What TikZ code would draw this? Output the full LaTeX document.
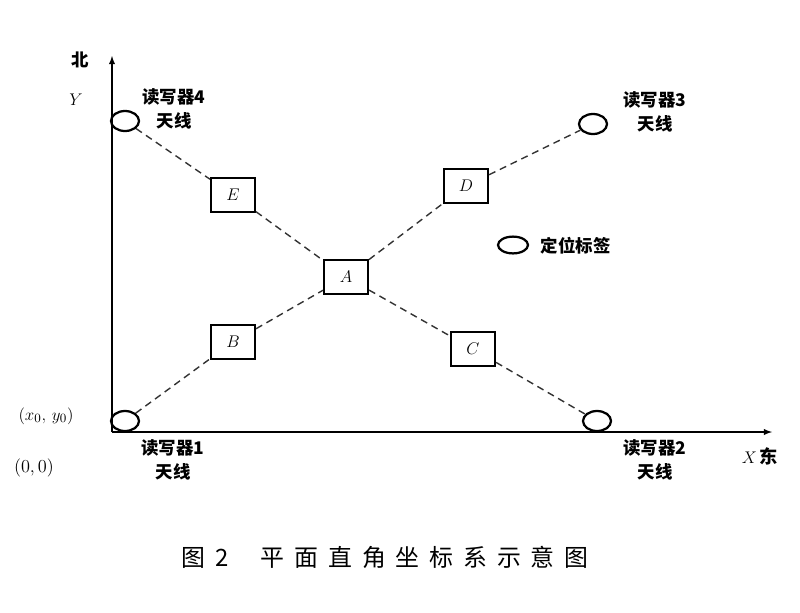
\documentclass[tikz,border=0pt]{standalone}
\usepackage{fontspec}
\newfontfamily\cjk{Noto Sans CJK SC}
\usetikzlibrary{shapes.geometric}

\begin{document}
\begin{tikzpicture}[x=0.025cm, y=-0.025cm,
  antenna/.style={draw, ellipse, line width=1.6pt, minimum width=0.7cm, minimum height=0.5cm, inner sep=0pt},
  tagbox/.style={draw, rectangle, line width=1.5pt, minimum width=1.1cm, minimum height=0.85cm, inner sep=0pt, font=\fontsize{13}{15}\selectfont},
  link/.style={dash pattern=on 5pt off 3.5pt, black!80, line width=1pt},
  axis/.style={line width=1pt, -latex},
  lbl/.style={font=\cjk\bfseries\fontsize{12.4}{17}\selectfont, align=center},
  coordtext/.style={font=\fontsize{13}{15}\selectfont}]
  \useasboundingbox (0,0) rectangle (800,612);
  \coordinate (o) at (112,432);
  \coordinate (xend) at (772,432);
  \coordinate (yend) at (112,56);
  \draw[axis] (o) -- (xend);
  \draw[axis] (o) -- (yend);
  \node[antenna] (ant1) at (125,421) {};
  \node[antenna] (ant2) at (597,421) {};
  \node[antenna] (ant3) at (593,124) {};
  \node[antenna] (ant4) at (125,121) {};
  \node[antenna, minimum width=0.75cm, minimum height=0.42cm] (tag) at (513,245) {};
  \node[tagbox] (A) at (346,277) {$A$};
  \node[tagbox] (B) at (233,342) {$B$};
  \node[tagbox] (C) at (473,349) {$C$};
  \node[tagbox] (D) at (466,186) {$D$};
  \node[tagbox] (E) at (233,195) {$E$};
  \draw[link] (ant1) -- (B) -- (A) -- (D) -- (ant3);
  \draw[link] (ant4) -- (E) -- (A) -- (C) -- (ant2);
  \node[lbl] (l4) at (174,109) {读写器4\\天线};
  \node[lbl] (l3) at (655,112) {读写器3\\天线};
  \node[lbl] (l1) at (173,460) {读写器1\\天线};
  \node[lbl] (l2) at (655,460) {读写器2\\天线};
  \node[lbl, anchor=west] (ltag) at (536,246) {定位标签};
  \node[lbl] (north) at (80,60) {北};
  \node[coordtext] (ylab) at (76,100) {$Y$};
  \node[coordtext] (xlab) at (760,456) {$X$\,{\cjk\bfseries 东}};
  \node[coordtext] (p0) at (46,416) {$(x_0,\,y_0)$};
  \node[coordtext] (zero) at (34,468) {(0,\,0)};
  \node[font=\cjk\fontsize{17}{19}\selectfont] (caption) at (385,557)
    {图\hspace{7pt}2\hspace{23pt}平\hspace{7pt}面\hspace{7pt}直\hspace{7pt}角\hspace{7pt}坐\hspace{7pt}标\hspace{7pt}系\hspace{7pt}示\hspace{7pt}意\hspace{7pt}图};
\end{tikzpicture}
\end{document}
